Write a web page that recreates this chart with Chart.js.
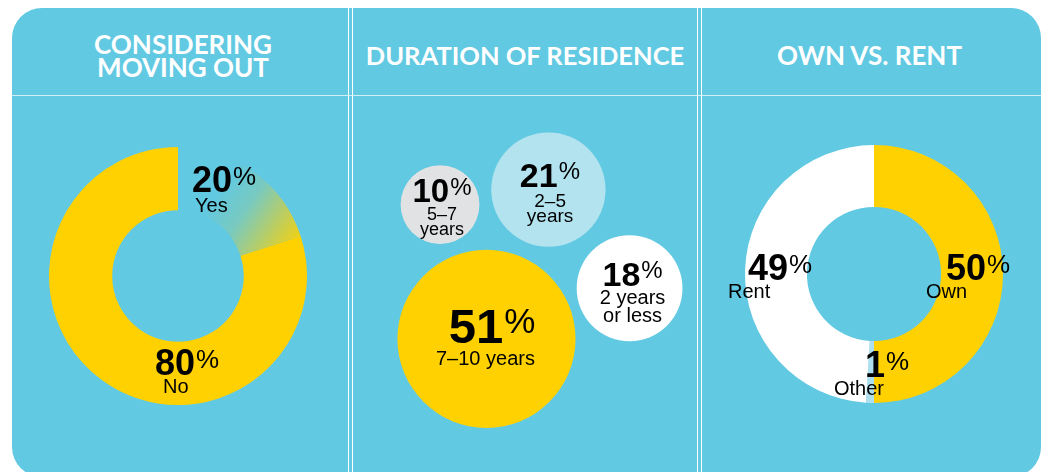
<!DOCTYPE html>
<html><head><meta charset="utf-8">
<script src="https://cdn.jsdelivr.net/npm/chart.js@4.4.1/dist/chart.umd.min.js"></script>
<style>
html,body{margin:0;padding:0;background:#fff;width:1044px;height:472px;overflow:hidden;}
#panel{position:absolute;left:12px;top:8px;width:1029px;height:469px;background:#62C9E2;border-radius:30px;overflow:hidden;}
.vline{position:absolute;top:0;bottom:0;width:1px;background:#fff;}
.hline{position:absolute;left:0;right:0;top:87px;height:1px;background:rgba(255,255,255,0.7);}
.title{position:absolute;top:0;height:88px;display:flex;align-items:center;justify-content:center;text-align:center;color:#fff;font-family:Lato,"Open Sans",sans-serif;font-weight:700;box-sizing:border-box;}
canvas{position:absolute;}
</style></head>
<body>
<div id="panel">
  <div class="hline"></div>
  <div class="vline" style="left:336px"></div>
  <div class="vline" style="left:340px"></div>
  <div class="vline" style="left:685px"></div>
  <div class="vline" style="left:689px"></div>
  <div class="title" style="left:3px;width:336px;font-size:26px;line-height:23px;padding-top:7px;">CONSIDERING<br>MOVING OUT</div>
  <div class="title" style="left:341px;width:344px;font-size:25.5px;padding-top:5px;">DURATION OF RESIDENCE</div>
  <div class="title" style="left:688px;width:339px;font-size:26px;padding-top:5px;">OWN VS. RENT</div>
  <canvas id="c1" width="336" height="375" style="left:0;top:89px"></canvas>
  <canvas id="c2" width="344" height="375" style="left:341px;top:89px"></canvas>
  <canvas id="c3" width="340" height="375" style="left:689px;top:89px"></canvas>
</div>
<script>
// ---- data ----
const movingLabels = ['Yes', 'No'];
const movingValues = [20, 80];

const durationLabels = ['5–7 years', '2–5 years', '2 years or less', '7–10 years'];
const durationValues = [10, 21, 18, 51];
const durationLines = [['5–7', 'years'], ['2–5', 'years'], ['2 years', 'or less'], ['7–10 years']];
// bubble placement on a 0–100 layout grid
const bubbleX = [25.3, 56.8, 80.4, 38.8];
const bubbleY = [71.3, 75.3, 49.0, 35.5];

const tenureLabels = ['Own', 'Other', 'Rent'];
const tenureValues = [50, 1, 49];

// ---- styles ----
const YELLOW = '#FFD100';
const NUMFONT = '"Liberation Sans", Arial, Helvetica, sans-serif';
const BUBBLE_K = 12.47;

function drawValue(ctx, value, x, y, size, align) {
  const txt = String(value);
  const ps = Math.round(size * 0.72);
  ctx.font = 'bold ' + size + 'px ' + NUMFONT;
  const w1 = ctx.measureText(txt).width;
  ctx.font = ps + 'px ' + NUMFONT;
  const w2 = ctx.measureText('%').width;
  const left = align === 'center' ? x - (w1 + w2 + 1) / 2 : x;
  ctx.textAlign = 'left';
  ctx.textBaseline = 'alphabetic';
  ctx.fillStyle = '#000';
  ctx.font = 'bold ' + size + 'px ' + NUMFONT;
  ctx.fillText(txt, left, y);
  ctx.font = ps + 'px ' + NUMFONT;
  ctx.fillText('%', left + w1 + 1, y - 0.716 * (size - ps));
}
function drawSub(ctx, lines, x, y, step, size, align) {
  ctx.font = size + 'px ' + NUMFONT;
  ctx.fillStyle = '#000';
  ctx.textAlign = align;
  ctx.textBaseline = 'alphabetic';
  lines.forEach((l, i) => ctx.fillText(l, x, y + i * step));
}

// label placement (offsets from the ring centre)
const movingLabelPos = [
  {vx: 14, vy: -84, sx: 17, sy: -64},
  {vx: -23, vy: 99, sx: -15, sy: 117}
];
const tenureLabelPos = [
  {vx: 72, vy: 6, sx: 52, sy: 24},
  {vx: -9, vy: 103, sx: -40, sy: 121},
  {vx: -126, vy: 6, sx: -146, sy: 24}
];
const bubbleLabelPos = [
  {vx: 2, vy: -3, vs: 33, sx: 2, sy: 15.5, step: 14.5, ss: 18},
  {vx: 1.5, vy: -3, vs: 34, sx: 1.7, sy: 17.8, step: 14.4, ss: 19},
  {vx: 3, vy: -2.6, vs: 34, sx: 3, sy: 16, step: 17.4, ss: 20},
  {vx: 5.5, vy: 4.5, vs: 49, sx: -1, sy: 26, step: 20, ss: 20}
];

const ringLabels = {
  id: 'ringLabels',
  afterDatasetsDraw(chart, args, opts) {
    const arc = chart.getDatasetMeta(0).data[0];
    if (!arc) return;
    const ctx = chart.ctx;
    ctx.save();
    opts.values.forEach((v, i) => {
      const p = opts.pos[i];
      drawValue(ctx, v, arc.x + p.vx, arc.y + p.vy, 36, 'left');
      drawSub(ctx, [opts.labels[i]], arc.x + p.sx, arc.y + p.sy, 20, 20, 'left');
    });
    ctx.restore();
  }
};
const bubbleLabels = {
  id: 'bubbleLabels',
  afterDatasetsDraw(chart) {
    const ctx = chart.ctx;
    ctx.save();
    chart.getDatasetMeta(0).data.forEach((el, i) => {
      const p = bubbleLabelPos[i];
      drawValue(ctx, durationValues[i], el.x + p.vx, el.y + p.vy, p.vs, 'center');
      drawSub(ctx, durationLines[i], el.x + p.sx, el.y + p.sy, p.step, p.ss, 'center');
    });
    ctx.restore();
  }
};

const common = {
  responsive: false,
  animation: false,
  events: [],
  plugins: {legend: {display: false}, tooltip: {enabled: false}}
};

new Chart(document.getElementById('c1'), {
  type: 'doughnut',
  data: {
    labels: movingLabels,
    datasets: [{
      data: movingValues,
      borderWidth: 0,
      backgroundColor: (c) => {
        if (c.dataIndex !== 0) return YELLOW;
        const a = c.chart.chartArea;
        if (!a) return YELLOW;
        const cx = (a.left + a.right) / 2, cy = (a.top + a.bottom) / 2;
        const g = c.chart.ctx.createLinearGradient(cx + 37, cy - 81, cx + 117, cy - 26);
        g.addColorStop(0, 'rgba(255,209,0,0)');
        g.addColorStop(0.35, 'rgba(255,209,0,0.15)');
        g.addColorStop(1, 'rgba(255,209,0,0.95)');
        return g;
      }
    }]
  },
  options: Object.assign({}, common, {
    cutout: '51%',
    layout: {padding: {left: 37, right: 41, top: 50, bottom: 67}},
    plugins: Object.assign({}, common.plugins, {ringLabels: {values: movingValues, labels: movingLabels, pos: movingLabelPos}})
  }),
  plugins: [ringLabels]
});

new Chart(document.getElementById('c2'), {
  type: 'bubble',
  data: {
    labels: durationLabels,
    datasets: [{
      data: durationValues.map((v, i) => ({x: bubbleX[i], y: bubbleY[i], r: BUBBLE_K * Math.sqrt(v)})),
      backgroundColor: ['#E1E2E4', '#B3E3EF', '#FFFFFF', YELLOW],
      borderWidth: 0,
      hoverBorderWidth: 0
    }]
  },
  options: Object.assign({}, common, {
    layout: {padding: 0, autoPadding: false},
    scales: {
      x: {type: 'linear', min: 0, max: 100, display: false},
      y: {type: 'linear', min: 0, max: 100, display: false}
    }
  }),
  plugins: [bubbleLabels]
});

new Chart(document.getElementById('c3'), {
  type: 'doughnut',
  data: {
    labels: tenureLabels,
    datasets: [{
      data: tenureValues,
      borderWidth: 0,
      backgroundColor: [YELLOW, '#ADDFEE', '#FFFFFF']
    }]
  },
  options: Object.assign({}, common, {
    cutout: '52%',
    layout: {padding: {left: 44, right: 38, top: 48, bottom: 69}},
    plugins: Object.assign({}, common.plugins, {ringLabels: {values: tenureValues, labels: tenureLabels, pos: tenureLabelPos}})
  }),
  plugins: [ringLabels]
});
</script>
</body></html>
